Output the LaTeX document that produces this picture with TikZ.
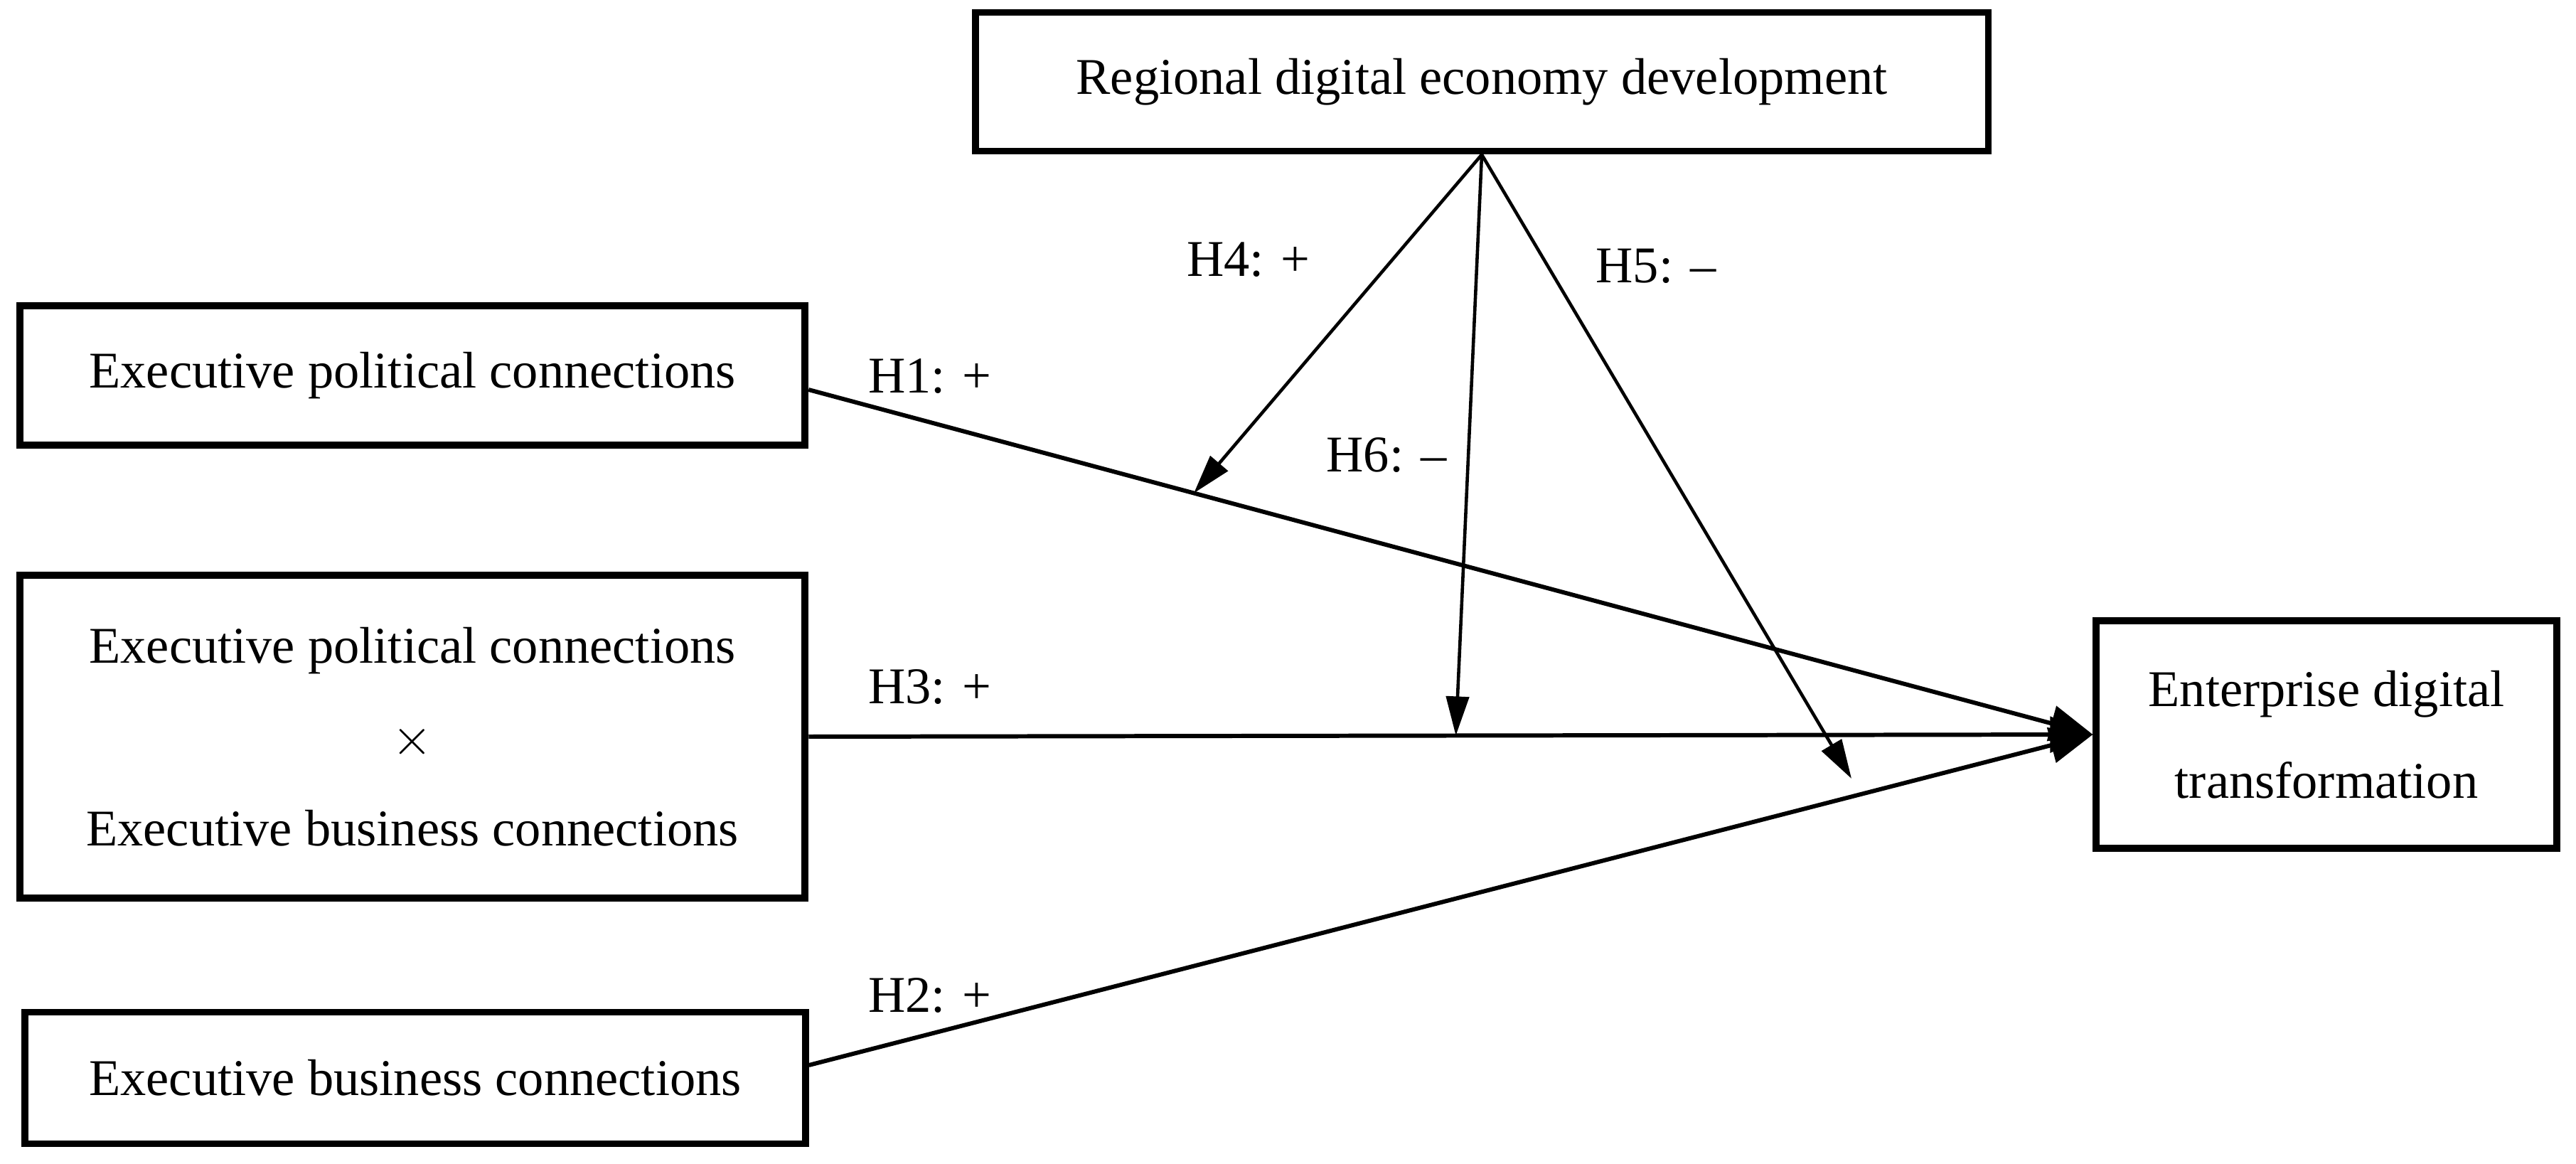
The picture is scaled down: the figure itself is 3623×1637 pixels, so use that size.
\documentclass[tikz,border=0pt]{standalone}
\usepackage{fontspec}
\setmainfont{Liberation Serif}
\usetikzlibrary{arrows.meta,calc}
\begin{document}
\begin{tikzpicture}[x=0.01cm,y=-0.01cm,
  every node/.style={font=\fontsize{20.6}{26}\selectfont},
  boxnode/.style={draw,line width=2.8pt,align=center,inner sep=0pt},
  conn/.style={line width=1.7pt},
  mainarrow/.style={conn,-{Triangle[length=0.6cm,width=0.5cm]}},
  modarrow/.style={line width=1.3pt,-{Triangle[length=0.55cm,width=0.32cm]}},
  lbl/.style={inner sep=0pt}]
\useasboundingbox (0,0) rectangle (3623,1637);
\node[boxnode,minimum width=14.24cm,minimum height=1.95cm] (RDE) at (2084,115) {Regional digital economy development};
\node[boxnode,minimum width=11.04cm,minimum height=1.96cm] (EPC) at (580,528) {Executive political connections};
\node[boxnode,minimum width=11.04cm,minimum height=4.53cm,text depth=0pt] (INT) at (580,1036) {Executive political connections\\[0.37cm]$\times$\\[0.37cm]Executive business connections};
\node[boxnode,minimum width=10.97cm,minimum height=1.85cm] (EBC) at (584,1516) {Executive business connections};
\node[boxnode,minimum width=6.47cm,minimum height=3.19cm] (EDT) at (3272,1033) {Enterprise digital\\[0.38cm]transformation};

\draw[mainarrow] ([yshift=-0.2cm]EPC.east) -- coordinate[pos=0.3] (h4t) (EDT.west);
\draw[mainarrow] (INT.east) -- coordinate[pos=0.504] (h6t) (EDT.west);
\draw[mainarrow] ([yshift=0.18cm]EBC.east) -- (EDT.west);
\coordinate (h5t) at (2604,1095);

\draw[modarrow] (RDE.south) -- (h4t);
\draw[modarrow] (RDE.south) -- (h6t);
\draw[modarrow] (RDE.south) -- (h5t);

\node[lbl] (l1) at (1308,529) {H1: +};
\node[lbl] (l3) at (1308,966) {H3: +};
\node[lbl] (l2) at (1308,1400) {H2: +};
\node[lbl] (l4) at (1756,365) {H4: +};
\node[lbl] (l5) at (2329,374) {H5: –};
\node[lbl] (l6) at (1950,640) {H6: –};
\end{tikzpicture}
\end{document}
